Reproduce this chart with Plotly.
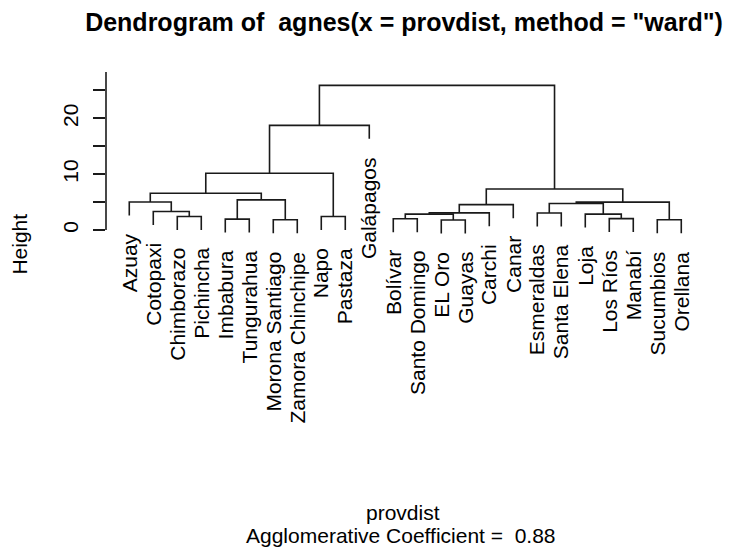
import plotly.graph_objects as go

# Leaf labels in dendrogram order
provinces = ["Azuay", "Cotopaxi", "Chimborazo", "Pichincha", "Imbabura", "Tungurahua",
             "Morona Santiago", "Zamora Chinchipe", "Napo", "Pastaza", "Galápagos",
             "Bolívar", "Santo Domingo", "EL Oro", "Guayas", "Carchi", "Canar",
             "Esmeraldas", "Santa Elena", "Loja", "Los Ríos", "Manabí", "Sucumbios", "Orellana"]

# hclust-style merge table: negative = leaf (1-based position in provinces),
# positive = index of an earlier merge
merge_left = [-7, -14, -23, -5, -12, -21, -3, -9, 5, -20, -18, 9, -2, 12, 11, 15, -1, 4, 17, 14, 19, 21, 22]
merge_right = [-8, -15, -24, -6, -13, -22, -4, -10, 2, 6, -19, -16, 7, -17, 10, 3, 13, 1, 18, 16, 8, -11, 20]
merge_height = [1.84, 1.80, 1.84, 1.96, 2.02, 2.06, 2.43, 2.43, 2.86, 2.86, 3.06, 3.09, 3.32,
                4.55, 4.75, 5.00, 5.02, 5.41, 6.60, 7.36, 10.18, 18.75, 25.90]

agglomerative_coef = 0.88
y_ticks = [0, 5, 10, 15, 20, 25]
y_tick_text = ["0", "", "10", "", "20", ""]

# ---- layout geometry (pixels) ----
W, H = 735, 552
ML, MR, MT = 106, 30, 72
Y_RANGE = [-0.7, 28.3]
PX_PER_UNIT = 5.6
PLOT_H = (Y_RANGE[1] - Y_RANGE[0]) * PX_PER_UNIT
MB = H - MT - PLOT_H
PLOT_W = W - ML - MR
X_RANGE = [0.03, 0.03 + PLOT_W / 24.0]

FONT = "Liberation Sans, Arial, sans-serif"
INK = "#1a1a1a"

def paper_x(px):
    return (px - ML) / PLOT_W

def paper_y(py):
    return (MT + PLOT_H - py) / PLOT_H

hang = 0.1 * (max(merge_height) - min(merge_height))

# ---- compute dendrogram segments ----
node_x = {}
node_h = {}
xs, ys = [], []
leaf_end = {}

def child_pos(c, parent_h):
    if c < 0:
        i = -c
        y_end = parent_h - hang
        leaf_end[i] = y_end
        return float(i), y_end
    return node_x[c], node_h[c]

for k, (a, b, h) in enumerate(zip(merge_left, merge_right, merge_height), start=1):
    xa, ya = child_pos(a, h)
    xb, yb = child_pos(b, h)
    xs += [xa, xa, xb, xb, None]
    ys += [ya, h, h, yb, None]
    node_x[k] = (xa + xb) / 2.0
    node_h[k] = h

fig = go.Figure()
fig.add_trace(go.Scatter(x=xs, y=ys, mode="lines",
                         line=dict(color=INK, width=1.6),
                         hoverinfo="skip", showlegend=False))

annotations = []
for i, name in enumerate(provinces, start=1):
    annotations.append(dict(
        x=i, y=leaf_end[i], xref="x", yref="y", text=name, showarrow=False,
        textangle=-90, xanchor="center", yanchor="top", yshift=-16,
        font=dict(family=FONT, size=21, color="black")))

annotations.append(dict(
    x=paper_x(20), y=paper_y(245), xref="paper", yref="paper", text="Height",
    showarrow=False, textangle=-90, xanchor="center", yanchor="middle",
    font=dict(family=FONT, size=21, color="black")))
annotations.append(dict(
    x=paper_x(403), y=paper_y(514), xref="paper", yref="paper", text="provdist",
    showarrow=False, xanchor="center", yanchor="middle",
    font=dict(family=FONT, size=21, color="black")))
annotations.append(dict(
    x=paper_x(401), y=paper_y(537), xref="paper", yref="paper",
    text="Agglomerative Coefficient = \u00a0" + f"{agglomerative_coef:.2f}",
    showarrow=False, xanchor="center", yanchor="middle",
    font=dict(family=FONT, size=21, color="black")))

# y axis line from 0 up to the top of the plotting region
shapes = [dict(type="line", xref="paper", yref="y", x0=0, x1=0, y0=0, y1=Y_RANGE[1],
               line=dict(color=INK, width=1.6))]

fig.update_layout(
    width=W, height=H,
    margin=dict(l=ML, r=MR, t=MT, b=MB, pad=0),
    paper_bgcolor="white", plot_bgcolor="white",
    title=dict(text='Dendrogram of \u00a0agnes(x = provdist, method = "ward")',
               x=404 / W, xanchor="center", xref="container",
               y=1 - 22 / H, yanchor="middle", yref="container",
               font=dict(family=FONT, size=25, color="black", weight="bold")),
    xaxis=dict(visible=False, range=X_RANGE, fixedrange=True),
    yaxis=dict(range=Y_RANGE, showgrid=False, zeroline=False, showline=False,
               tickmode="array", tickvals=y_ticks, ticktext=y_tick_text,
               ticks="outside", ticklen=12, tickwidth=1.6, tickcolor=INK,
               tickangle=-90, ticklabelstandoff=7,
               tickfont=dict(family=FONT, size=21, color="black"), fixedrange=True),
    annotations=annotations,
    shapes=shapes,
    showlegend=False,
)

fig.write_html("out.html")
